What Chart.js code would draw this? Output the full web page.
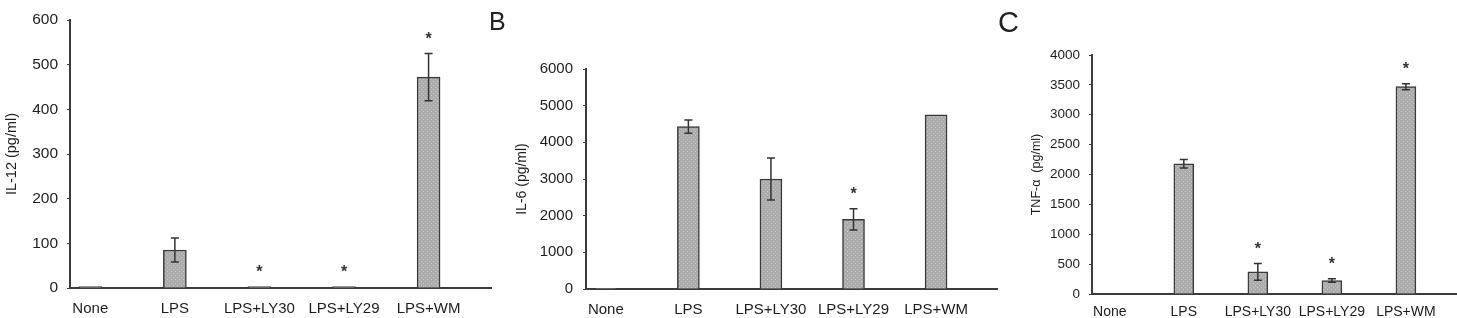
<!DOCTYPE html>
<html>
<head>
<meta charset="utf-8">
<script src="https://cdn.jsdelivr.net/npm/chart.js@4.4.0/dist/chart.umd.min.js"></script>
<style>
  body { margin: 0; background: #fff; width: 1457px; height: 318px; overflow: hidden; position: relative; }
  canvas { position: absolute; top: 0; }
  .panel-label { position: absolute; font-family: "Liberation Sans", Arial, sans-serif; color: #222; line-height: 1; }
</style>
</head>
<body>
<canvas id="chart-a" width="492" height="318" style="left:0px"></canvas>
<canvas id="chart-b" width="506" height="318" style="left:492px"></canvas>
<canvas id="chart-c" width="459" height="318" style="left:998px"></canvas>
<div class="panel-label" style="left:489px; top:9px; font-size:25px;">B</div>
<div class="panel-label" style="left:998px; top:8px; font-size:29px;">C</div>

<script>
// dados
const categorias = ['None', 'LPS', 'LPS+LY30', 'LPS+LY29', 'LPS+WM'];

const il12Valores = [3, 85, 3, 3, 472];
const il12Erros = [0, 27, 0, 0, 53];
const il12Sig = [false, false, true, true, true];
const il12Ticks = [0, 100, 200, 300, 400, 500, 600];

const il6Valores = [20, 4430, 3000, 1900, 4750];
const il6Erros = [0, 180, 570, 290, 0];
const il6Sig = [false, false, false, true, false];
const il6Ticks = [0, 1000, 2000, 3000, 4000, 5000, 6000];

const tnfValores = [0, 2180, 370, 225, 3470];
const tnfErros = [0, 70, 140, 30, 50];
const tnfSig = [false, false, true, true, true];
const tnfTicks = [0, 500, 1000, 1500, 2000, 2500, 3000, 3500, 4000];

const FONTE = '"Liberation Sans", Arial, sans-serif';
const COR_TEXTO = '#1e1e1e';
const COR_EIXO = '#3c3c3c';

// textura pontilhada das barras
function criarTextura() {
  const c = document.createElement('canvas');
  c.width = 4; c.height = 4;
  const g = c.getContext('2d');
  g.fillStyle = '#acacac';
  g.fillRect(0, 0, 4, 4);
  g.fillStyle = '#c6c6c6';
  g.fillRect(1, 1, 1, 1);
  g.fillRect(3, 3, 1, 1);
  return g.createPattern(c, 'repeat');
}
const textura = criarTextura();

// barras de erro e asteriscos
const errosPlugin = {
  id: 'erros',
  afterDatasetsDraw(chart, args, opts) {
    const ctx = chart.ctx;
    const xs = chart.scales.x;
    const ys = chart.scales.y;
    ctx.save();
    ctx.strokeStyle = '#333';
    ctx.fillStyle = '#333';
    ctx.lineWidth = 1.5;
    opts.valores.forEach((v, i) => {
      const x = xs.getPixelForValue(i);
      const e = opts.erros[i];
      let topo = ys.getPixelForValue(v);
      if (e > 0) {
        const yT = ys.getPixelForValue(v + e);
        const yB = ys.getPixelForValue(v - e);
        ctx.beginPath();
        ctx.moveTo(x, yT); ctx.lineTo(x, yB);
        ctx.moveTo(x - 4, yT); ctx.lineTo(x + 4, yT);
        ctx.moveTo(x - 4, yB); ctx.lineTo(x + 4, yB);
        ctx.stroke();
        topo = yT;
      }
      if (opts.sig[i]) {
        ctx.font = 'bold 16px ' + FONTE;
        ctx.textAlign = 'center';
        ctx.textBaseline = 'middle';
        ctx.fillText('*', x, topo - 14);
      }
    });
    ctx.restore();
  }
};

function criarGrafico(id, valores, erros, sig, ticksY, titulo, cfg) {
  const ctx = document.getElementById(id).getContext('2d');
  return new Chart(ctx, {
    type: 'bar',
    data: {
      datasets: [{
        data: valores.map((v, i) => ({ x: i, y: v })),
        backgroundColor: textura,
        borderColor: '#3a3a3a',
        borderWidth: 1.5,
        barThickness: cfg.barra
      }]
    },
    plugins: [errosPlugin],
    options: {
      responsive: false,
      animation: false,
      layout: { padding: { top: cfg.topo, left: 0, right: 0, bottom: 0 } },
      plugins: {
        legend: { display: false },
        tooltip: { enabled: false },
        erros: { valores: valores, erros: erros, sig: sig }
      },
      scales: {
        x: {
          type: 'linear',
          offset: false,
          min: -0.24,
          max: cfg.maxX,
          grid: { display: false },
          border: { display: true, color: COR_EIXO, width: 2 },
          afterBuildTicks: (s) => { s.ticks = categorias.map((c, i) => ({ value: i })); },
          afterFit: (s) => { s.height = cfg.alturaX; },
          ticks: {
            autoSkip: false,
            maxRotation: 0,
            padding: cfg.padX,
            color: COR_TEXTO,
            font: { family: FONTE, size: cfg.fonteX },
            callback: (v) => categorias[v]
          }
        },
        y: {
          min: 0,
          max: ticksY[ticksY.length - 1],
          afterBuildTicks: (s) => { s.ticks = ticksY.map(t => ({ value: t })); },
          afterFit: (s) => { s.width = cfg.larguraY; },
          grid: { drawOnChartArea: false, drawTicks: true, tickLength: 3, color: COR_EIXO },
          border: { display: true, color: COR_EIXO, width: 2 },
          ticks: {
            padding: cfg.padY,
            color: COR_TEXTO,
            font: { family: FONTE, size: cfg.fonteY },
            callback: (v) => String(v)
          },
          title: {
            display: true,
            text: titulo,
            color: COR_TEXTO,
            font: { family: FONTE, size: cfg.fonteTitulo },
            padding: { top: cfg.padTitulo, bottom: 0 }
          }
        }
      }
    }
  });
}

criarGrafico('chart-a', il12Valores, il12Erros, il12Sig, il12Ticks, 'IL-12 (pg/ml)',
  { barra: 23, topo: 20, alturaX: 30, larguraY: 70, maxX: 4.75, padX: 4, padY: 9, fonteX: 15, fonteY: 15.5, fonteTitulo: 14.5, padTitulo: 3 });
criarGrafico('chart-b', il6Valores, il6Erros, il6Sig, il6Ticks, 'IL-6 (pg/ml)',
  { barra: 22, topo: 69, alturaX: 29, larguraY: 94, maxX: 4.75, padX: 4, padY: 10, fonteX: 15, fonteY: 15, fonteTitulo: 14, padTitulo: 22 });
criarGrafico('chart-c', tnfValores, tnfErros, tnfSig, tnfTicks, 'TNF-α  (pg/ml)',
  { barra: 20, topo: 55, alturaX: 24, larguraY: 94, maxX: 4.69, padX: 2, padY: 9, fonteX: 14, fonteY: 13.5, fonteTitulo: 12.5, padTitulo: 31 });
</script>
</body>
</html>
